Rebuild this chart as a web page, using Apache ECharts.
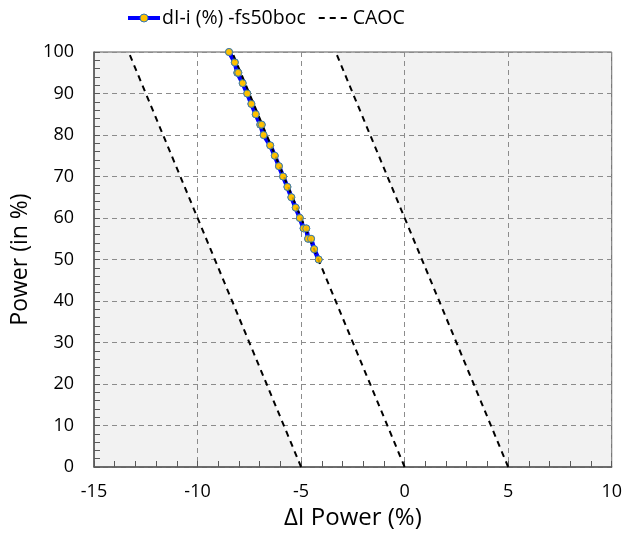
<!DOCTYPE html>
<html>
<head>
<meta charset="utf-8">
<script src="https://cdn.jsdelivr.net/npm/echarts@6/dist/echarts.min.js"></script>
<style>
  html, body { margin: 0; padding: 0; background: #fff; }
  #chart { width: 625px; height: 545px; }
</style>
</head>
<body>
<div id="chart"></div>
<script>
// Measured axial offset (ΔI, %) against core power (%)
const powerLevels = [100, 97.5, 95, 95, 92.5, 90, 87.5, 85, 82.5, 82.5, 80, 77.5, 75, 72.5, 70, 67.5, 65, 62.5, 60, 57.5, 57.5, 55, 55, 52.5, 50];
const deltaI = [-8.48, -8.2, -8.08, -8.03, -7.82, -7.6, -7.4, -7.19, -6.97, -6.9, -6.81, -6.49, -6.27, -6.07, -5.87, -5.66, -5.47, -5.26, -5.06, -4.88, -4.75, -4.66, -4.52, -4.37, -4.15];

// CAOC band: target line and the ±5 % limits, as [ΔI, power] end points
const caocLower = [[-5, 0], [-13.33, 100]];
const caocTarget = [[0, 0], [-8.33, 100]];
const caocUpper = [[5, 0], [-3.33, 100]];

// Forbidden zones outside the band (shaded)
const leftZone = [[-15, 0], [-5, 0], [-13.33, 100], [-15, 100]];
const rightZone = [[5, 0], [10, 0], [10, 100], [-3.33, 100]];

const xTicks = { min: -15, max: 10, interval: 5 };
const yTicks = { min: 0, max: 100, interval: 10 };

const measured = deltaI.map((d, i) => [d, powerLevels[i]]);

const FONT = 'Open Sans';
const AXIS_COLOR = '#595959';
const TICK_LEN = 6;
const markerStyle = { color: '#ffc000', borderColor: '#2e75b6', borderWidth: 1 };

function zoneSeries(points) {
  return {
    type: 'custom',
    silent: true,
    z: -1,
    data: [0],
    renderItem: function (params, api) {
      return {
        type: 'polygon',
        shape: { points: points.map(p => api.coord(p)) },
        style: { fill: '#f2f2f2' }
      };
    }
  };
}

function caocSeries(points) {
  return {
    name: 'CAOC',
    type: 'line',
    z: 4,
    data: points,
    symbol: 'none',
    silent: true,
    lineStyle: { color: '#000', width: 2, type: [6, 5] }
  };
}

// Main axes: line, labels, names and dashed grid
function mainAxis(ticks, extra) {
  return Object.assign({
    type: 'value',
    min: ticks.min, max: ticks.max, interval: ticks.interval,
    nameLocation: 'middle',
    nameTextStyle: { fontFamily: FONT, fontSize: 23, color: '#000' },
    axisLine: { show: true, onZero: false, lineStyle: { color: AXIS_COLOR, width: 1.5 } },
    axisTick: { show: false },
    splitLine: { show: true, lineStyle: { color: '#8c8c8c', width: 1, type: [5, 4] } }
  }, extra);
}

// Tick-only companion axes, shifted into the plot so their ticks end on the frame
function tickAxis(ticks, position) {
  return {
    type: 'value',
    position: position,
    offset: -TICK_LEN,
    min: ticks.min, max: ticks.max, interval: ticks.interval,
    axisLine: { show: false, onZero: false },
    axisLabel: { show: false },
    splitLine: { show: false },
    axisTick: { show: true, length: TICK_LEN, lineStyle: { color: AXIS_COLOR, width: 1 } },
    minorTick: { show: true, splitNumber: 5, length: TICK_LEN, lineStyle: { color: AXIS_COLOR, width: 1 } }
  };
}

const chart = echarts.init(document.getElementById('chart'), null, { renderer: 'canvas' });
chart.setOption({
  animation: false,
  textStyle: { fontFamily: FONT },
  grid: {
    left: 94, right: 11, top: 52, bottom: 78,
    show: true, borderColor: AXIS_COLOR, borderWidth: 1, backgroundColor: 'transparent'
  },
  legend: {
    top: 3,
    left: 121,
    itemGap: 12,
    itemWidth: 32,
    itemHeight: 10,
    textStyle: { fontFamily: FONT, fontSize: 19.5, color: '#000', padding: [0, 0, 0, -3] },
    data: [
      { name: 'dI-i (%) -fs50boc', lineStyle: { width: 4, color: '#0000ff' }, itemStyle: markerStyle },
      { name: 'CAOC', itemStyle: { opacity: 0 } }
    ]
  },
  xAxis: [
    mainAxis(xTicks, {
      position: 'bottom',
      name: 'ΔI Power (%)',
      nameGap: 37,
      nameTextStyle: { fontFamily: FONT, fontSize: 24, color: '#000' },
      axisLabel: { fontSize: 18, color: '#000', margin: 16, fontFamily: FONT }
    }),
    tickAxis(xTicks, 'bottom')
  ],
  yAxis: [
    mainAxis(yTicks, {
      position: 'left',
      name: 'Power (in %)',
      nameGap: 60,
      axisLabel: { fontSize: 18, color: '#000', margin: 20, fontFamily: FONT }
    }),
    tickAxis(yTicks, 'left')
  ],
  series: [
    zoneSeries(leftZone),
    zoneSeries(rightZone),
    {
      name: 'dI-i (%) -fs50boc',
      type: 'line',
      z: 3,
      data: measured,
      symbol: 'circle',
      symbolSize: 7,
      showSymbol: true,
      lineStyle: { color: '#0000ff', width: 4.5 },
      itemStyle: markerStyle
    },
    caocSeries(caocLower),
    caocSeries(caocTarget),
    caocSeries(caocUpper),
    {
      // markers redrawn above the dashed target line
      name: 'dI-i (%) -fs50boc',
      type: 'scatter',
      z: 5,
      data: measured,
      symbol: 'circle',
      symbolSize: 7,
      silent: true,
      itemStyle: markerStyle
    }
  ]
});
</script>
</body>
</html>
